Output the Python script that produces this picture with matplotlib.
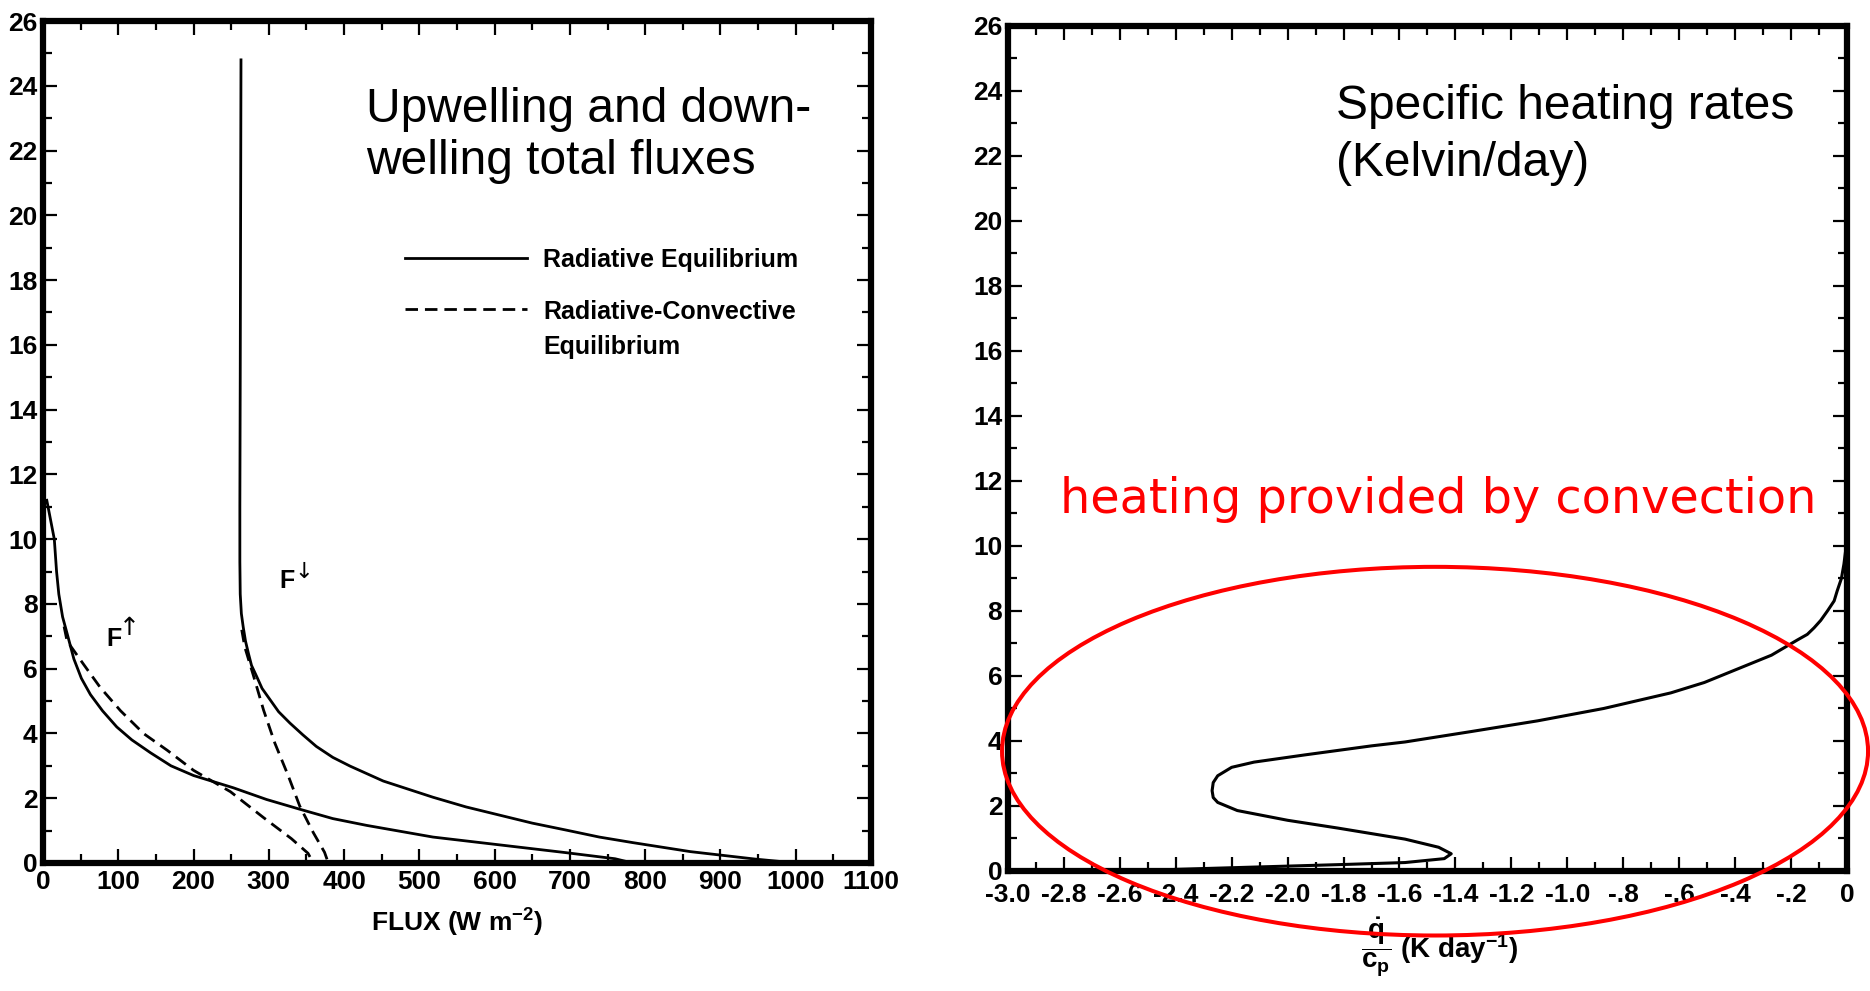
import matplotlib
matplotlib.use('Agg')
import matplotlib.pyplot as plt
from matplotlib.patches import Ellipse
from matplotlib.ticker import MultipleLocator

plt.rcParams['font.family'] = ['Liberation Sans', 'DejaVu Sans']
plt.rcParams['mathtext.fontset'] = 'custom'
plt.rcParams['mathtext.rm'] = 'Liberation Sans:bold'
plt.rcParams['mathtext.bf'] = 'Liberation Sans:bold'
plt.rcParams['mathtext.it'] = 'Liberation Sans:italic:bold'
plt.rcParams['mathtext.sf'] = 'Liberation Sans:bold'

# ---- left panel: fluxes (W m-2) vs altitude (km) ----
# downwelling flux, radiative equilibrium
fdn_re_flux = [263, 262.5, 262, 261.5, 261.5, 262, 263.5, 266, 269, 273, 277, 284, 291, 302,
               313, 328, 345, 363, 385, 408, 452, 518, 562, 606, 650, 694, 739, 783, 860,
               946, 1000]
fdn_re_z = [24.8, 20, 15, 11, 9.3, 8.3, 7.7, 7.28, 6.85, 6.46, 6.1, 5.75, 5.39, 5.03,
            4.67, 4.32, 3.96, 3.6, 3.26, 2.99, 2.53, 2.03, 1.73, 1.48, 1.23, 1.02, 0.8, 0.63, 0.35,
            0.12, 0]
# upwelling flux, radiative equilibrium
fup_re_flux = [5, 10, 15, 18, 21, 26, 33, 41, 51, 63, 79, 98, 118, 143, 170, 200,
               253, 297, 341, 385, 430, 518, 606, 694, 760, 783]
fup_re_z = [11.2, 10.6, 10.0, 9.0, 8.3, 7.6, 7.0, 6.3, 5.7, 5.2, 4.7, 4.2, 3.8, 3.4, 3.0, 2.7,
            2.32, 1.96, 1.66, 1.37, 1.16, 0.8, 0.56, 0.32, 0.13, 0]
# radiative-convective equilibrium
fup_rc_flux = [28, 32, 54, 76, 103, 134, 165, 200, 249, 293, 330, 352, 359]
fup_rc_z = [7.3, 6.85, 6.13, 5.42, 4.7, 3.99, 3.48, 2.86, 2.2, 1.4, 0.75, 0.3, 0]
fdn_rc_flux = [264, 268, 280, 293, 308, 326, 341, 359, 374, 379]
fdn_rc_z = [7.2, 6.67, 5.75, 4.72, 3.7, 2.68, 1.76, 0.94, 0.33, 0]

flux_ticks = list(range(0, 1101, 100))
z_ticks = list(range(0, 27, 2))

# ---- right panel: heating rate (K/day) vs altitude ----
heat_rate = [0.0, -0.005, -0.011, -0.02, -0.035, -0.046, -0.07, -0.094, -0.118, -0.142, -0.177,
             -0.27, -0.39, -0.51, -0.63, -0.87, -1.106, -1.344, -1.58, -1.70, -1.94, -2.12,
             -2.20, -2.25, -2.266, -2.27, -2.266, -2.25, -2.18, -2.0, -1.82, -1.58, -1.46,
             -1.415, -1.44, -1.58, -1.8, -2.0, -2.2, -2.4]
heat_z = [10.0, 9.85, 9.44, 9.0, 8.62, 8.31, 8.0, 7.71, 7.48, 7.28, 7.11,
          6.64, 6.22, 5.80, 5.48, 5.0, 4.62, 4.29, 3.97, 3.85, 3.57, 3.35,
          3.19, 2.93, 2.72, 2.47, 2.26, 2.11, 1.86, 1.56, 1.32, 0.98, 0.73,
          0.53, 0.38, 0.26, 0.2, 0.15, 0.1, 0.05]
rate_ticks = [-3.0, -2.8, -2.6, -2.4, -2.2, -2.0, -1.8, -1.6, -1.4, -1.2, -1.0,
              -0.8, -0.6, -0.4, -0.2, 0.0]
rate_tick_labels = ['-3.0', '-2.8', '-2.6', '-2.4', '-2.2', '-2.0', '-1.8', '-1.6', '-1.4',
                    '-1.2', '-1.0', '-.8', '-.6', '-.4', '-.2', '0']


def style_axes(ax, xpad):
    for sp in ax.spines.values():
        sp.set_linewidth(4.5)
    ax.tick_params(which='both', direction='in', top=True, right=True, width=1.6,
                   labelsize=19, pad=4)
    ax.tick_params(axis='x', which='both', pad=xpad)
    ax.tick_params(which='major', length=10)
    ax.tick_params(which='minor', length=6.5)
    ax.yaxis.set_minor_locator(MultipleLocator(1))
    ax.set_yticks(z_ticks, [str(t) for t in z_ticks], fontweight='bold')
    ax.set_ylim(0, 26)


fig = plt.figure(figsize=(18.7, 9.91), dpi=100)
ax1 = fig.add_axes([0.0230, 0.1292, 0.4428, 0.8496])
ax2 = fig.add_axes([0.5390, 0.1211, 0.4487, 0.8527])

# left
style_axes(ax1, 5)
ax1.set_xlim(0, 1100)
ax1.set_xticks(flux_ticks, [str(t) for t in flux_ticks], fontweight='bold')
ax1.xaxis.set_minor_locator(MultipleLocator(50))
dash = (0, (4.5, 2.5))
ax1.plot(fdn_re_flux, fdn_re_z, color='black', lw=2.0)
ax1.plot(fup_re_flux, fup_re_z, color='black', lw=2.0)
ax1.plot(fup_rc_flux, fup_rc_z, color='black', lw=2.0, ls=dash)
ax1.plot(fdn_rc_flux, fdn_rc_z, color='black', lw=2.0, ls=dash)
ax1.set_xlabel('FLUX (W m$^{-2}$)', fontsize=19, fontweight='bold', labelpad=9)

ax1.text(84, 6.7, 'F', fontsize=18, fontweight='bold')
ax1.text(101, 7.05, '\u2191', fontsize=18, family='DejaVu Sans')
ax1.text(314, 8.5, 'F', fontsize=18, fontweight='bold')
ax1.text(334, 8.8, '\u2193', fontsize=16, family='DejaVu Sans')

# legend drawn by hand
ax1.plot([0.437, 0.585], [0.7185, 0.7185], transform=ax1.transAxes, color='black', lw=2.0)
ax1.plot([0.437, 0.585], [0.658, 0.658], transform=ax1.transAxes, color='black', lw=2.0, ls=dash)
ax1.text(0.604, 0.708, 'Radiative Equilibrium', transform=ax1.transAxes, fontsize=18,
         fontweight='bold', va='baseline')
ax1.text(0.604, 0.646, 'Radiative-Convective', transform=ax1.transAxes, fontsize=18,
         fontweight='bold', va='baseline')
ax1.text(0.604, 0.604, 'Equilibrium', transform=ax1.transAxes, fontsize=18,
         fontweight='bold', va='baseline')

ax1.text(0.390, 0.880, 'Upwelling and down-', transform=ax1.transAxes, fontsize=34.5,
         va='baseline')
ax1.text(0.390, 0.818, 'welling total fluxes', transform=ax1.transAxes, fontsize=34.5,
         va='baseline')

# right
style_axes(ax2, 8.5)
ax2.set_xlim(-3.0, 0)
ax2.set_xticks(rate_ticks, rate_tick_labels, fontweight='bold')
ax2.xaxis.set_minor_locator(MultipleLocator(0.1))
ax2.plot(heat_rate, heat_z, color='black', lw=2.2)
ax2.set_xlabel(r'$\dfrac{\dot{\mathrm{q}}}{\mathrm{c_p}}$ (K day$^{-1}$)', fontsize=20,
               fontweight='bold')
ax2.xaxis.set_label_coords(0.515, -0.053)
ax2.xaxis.label.set_va('top')
ax2.text(0.391, 0.890, 'Specific heating rates', transform=ax2.transAxes, fontsize=34.5,
         va='baseline')
ax2.text(0.391, 0.822, '(Kelvin/day)', transform=ax2.transAxes, fontsize=34.5,
         va='baseline')

# red annotation
fig.text(0.567, 0.482, 'heating provided by convection', color='#ff0000', fontsize=34.4,
         family='DejaVu Sans', va='baseline')
fig.add_artist(Ellipse((0.7674, 0.2420), 0.4631, 0.3720, transform=fig.transFigure,
                       fill=False, ec='#ff0000', lw=2.9))

fig.savefig('out.png', dpi=100)
